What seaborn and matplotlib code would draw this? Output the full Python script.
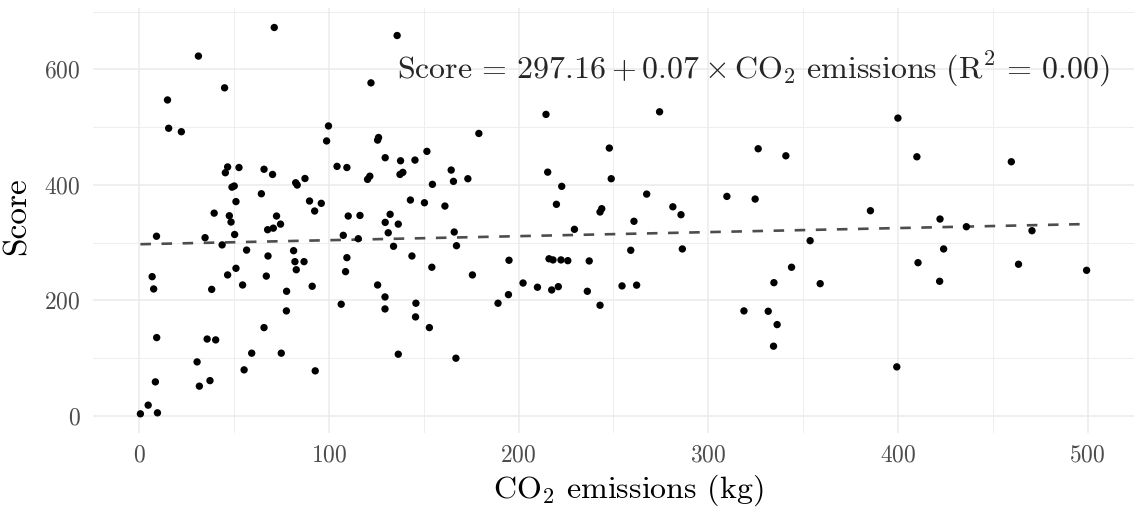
import matplotlib
matplotlib.use("Agg")
import matplotlib.pyplot as plt
import seaborn as sns
import pandas as pd
from matplotlib.ticker import MultipleLocator

# Datos
co2 = [31.1, 44.9, 14.8, 15.4, 22.1, 46.5, 45.3, 48.8, 50.0, 50.9,
       39.4, 47.4, 48.3, 50.2, 9.0, 34.6, 43.6, 50.9, 46.5, 6.7,
       7.5, 38.1, 9.1, 35.7, 40.2, 30.4, 8.4, 37.2, 31.6, 4.6,
       0.5, 9.5,
       71.1, 122.1, 99.7, 98.7, 52.5, 65.7, 70.2, 104.2, 109.4, 120.3,
       121.5, 82.4, 83.2, 87.3, 64.3, 89.7, 95.9, 92.4, 72.3, 74.4,
       67.6, 70.6, 110.1, 116.3, 107.5, 115.4, 56.5, 67.8, 81.3, 82.0,
       86.8, 82.7, 54.4, 66.9, 77.6, 91.1, 109.4, 108.7, 106.4, 77.5,
       65.7, 59.2, 74.8, 55.2, 92.7,
       135.9, 126.1, 125.6, 179.0, 129.6, 137.7, 145.3, 151.6, 137.4, 138.9,
       164.4, 165.6, 173.2, 154.5, 142.9, 150.3, 161.1, 132.2, 129.6, 136.5,
       131.2, 166.0, 134.0, 167.2, 143.7, 154.2, 175.6, 194.9, 202.3, 194.6,
       189.1, 125.6, 129.5, 129.5, 145.8, 145.6, 152.9, 136.5, 166.9,
       214.4, 274.3, 247.8, 215.3, 248.8, 222.7, 219.9, 267.5, 243.8, 242.9,
       281.3, 285.6, 260.8, 229.4, 259.1, 286.3, 216.0, 218.1, 222.3, 225.9,
       237.2, 209.9, 217.4, 220.9, 236.2, 242.9, 254.5, 262.2,
       400.0, 326.3, 340.9, 410.0, 309.8, 324.7, 385.5, 353.7, 343.9, 334.6,
       359.0, 410.6, 318.8, 331.6, 336.3, 334.4, 399.4,
       459.8, 422.2, 436.1, 470.7, 424.1, 422.0, 463.6, 499.5]

score = [623, 568, 547, 498, 492, 431, 421, 396, 398, 371,
         351, 346.5, 335.6, 314, 311, 308.5, 296, 255.5, 244, 241,
         219.7, 219, 135.5, 133, 131.5, 93.4, 58.8, 61, 51.4, 18.5,
         3.5, 5.2,
         672.5, 576.6, 502, 476, 430, 427, 418, 432, 430, 409.5,
         415, 403.6, 399.7, 411, 384.6, 372, 368, 354.7, 346, 332,
         322.3, 325, 346, 347, 312.6, 306.7, 287, 276.8, 286, 267,
         267, 253, 226.6, 242, 215.7, 224.4, 273.9, 249.7, 193.3, 181.7,
         152.8, 108.5, 108.5, 79.6, 77.9,
         658.6, 482, 477.5, 489, 447, 441.7, 442.9, 458, 418, 421.6,
         425.6, 406, 410.6, 400.9, 373.7, 369, 363.3, 349, 335, 332,
         317, 318.3, 293.6, 294.6, 276.8, 257.3, 244, 269.4, 230, 209.9,
         195, 226.6, 205.9, 185.1, 195, 171.3, 152.8, 106.7, 99.8,
         522, 526.5, 463.7, 422, 410.6, 397.4, 366.3, 384, 358.7, 353,
         362, 348.3, 336.9, 323, 286.7, 289, 272, 270, 270, 268.7,
         268.2, 222.7, 218, 223.7, 215.7, 191.5, 225, 226.3,
         515.6, 462.5, 450.3, 448.6, 380, 375.4, 355.2, 303.3, 257.3, 230.6,
         228.9, 265.2, 181.7, 181.1, 158, 120.6, 84.8,
         440, 340.8, 327.5, 320.6, 289, 233, 262.5, 252]

# Coeficientes del ajuste lineal (los del texto del grafico)
intercepto = 297.16
pendiente = 0.07

ecuacion = (r"$\mathrm{Score}\,=\,297.16 + 0.07 \times \mathrm{CO_2\ emissions}\ "
            r"(\mathrm{R}^2\,=\,0.00)$")

df = pd.DataFrame({"co2": co2, "score": score})
x_rango = [min(co2), max(co2)]
ajuste = pd.DataFrame({"co2": x_rango,
                       "score": [intercepto + pendiente * v for v in x_rango]})

sns.set_theme(style="white")
plt.rcParams["font.family"] = ["cmr10", "DejaVu Serif"]
plt.rcParams["mathtext.fontset"] = "cm"
plt.rcParams["axes.formatter.use_mathtext"] = True

fig = plt.figure(figsize=(11.34, 5.09), dpi=100)
ax = fig.add_axes([0.082, 0.149, 0.918, 0.835])

# Grid tipo theme_minimal
ax.xaxis.set_major_locator(MultipleLocator(100))
ax.xaxis.set_minor_locator(MultipleLocator(50))
ax.yaxis.set_major_locator(MultipleLocator(200))
ax.yaxis.set_minor_locator(MultipleLocator(100))
ax.grid(which="major", color="#EBEBEB", linewidth=1.1)
ax.grid(which="minor", color="#EBEBEB", linewidth=0.6)
ax.set_axisbelow(True)

sns.scatterplot(data=df, x="co2", y="score", color="black", s=28,
                edgecolor="none", ax=ax, zorder=3)
sns.lineplot(data=ajuste, x="co2", y="score", color="#4D4D4D", linewidth=1.9,
             linestyle=(0, (4, 4)), ax=ax, zorder=2)

ax.text(511.6, 584, ecuacion, ha="right", va="baseline", fontsize=23, zorder=4)

ax.set_xlim(-24.5, 524.5)
ax.set_ylim(-30, 706)

for s in ax.spines.values():
    s.set_visible(False)
ax.tick_params(which="both", length=0, labelsize=17, labelcolor="#4D4D4D")
ax.tick_params(axis="y", pad=9)
ax.tick_params(axis="x", pad=8)

ax.set_xlabel(r"$\mathrm{CO_2}$ emissions (kg)", fontsize=23, color="black")
ax.set_ylabel("Score", fontsize=24, color="black")
ax.xaxis.set_label_coords(0.514, -0.092)
ax.yaxis.set_label_coords(-0.0586, 0.511)

plt.savefig("out.png", dpi=100)
